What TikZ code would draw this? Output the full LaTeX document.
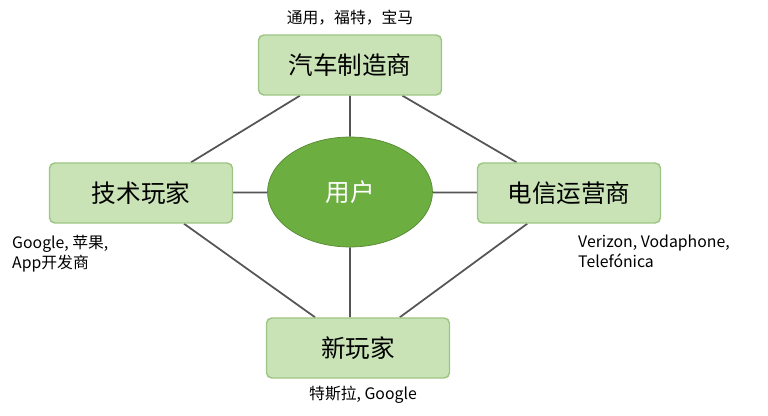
\documentclass[tikz,border=0pt]{standalone}
\usepackage{fontspec}
\newfontfamily\cjk{Noto Sans CJK SC}
\usetikzlibrary{shapes.geometric, backgrounds}
\definecolor{boxfill}{HTML}{C9E3B6}
\definecolor{boxline}{HTML}{9CC584}
\definecolor{hubfill}{HTML}{6CAE40}
\definecolor{linkgray}{HTML}{555555}
\tikzset{
  player/.style={draw=boxline, fill=boxfill, rounded corners=3pt, line width=0.8pt,
    minimum width=3.66cm, minimum height=1.2cm, font=\cjk\fontsize{14}{16}\selectfont},
  hub/.style={ellipse, fill=hubfill, draw=hubfill!80!black, minimum width=3.3cm,
    minimum height=2.2cm, text=white, font=\cjk\fontsize{14}{16}\selectfont},
  note/.style={font=\cjk\fontsize{9}{11.5}\selectfont, align=left},
  link/.style={draw=linkgray, line width=1pt}
}
\begin{document}
\begin{tikzpicture}[x=0.02cm,y=0.02cm]
    \useasboundingbox (0,0) rectangle (768,416);

    \node[hub] (user) at (350,224) {用户};
    \node[player] (car) at (350,351) {汽车制造商};
    \node[player] (tech) at (141,223) {技术玩家};
    \node[player] (tel) at (569,223) {电信运营商};
    \node[player] (new) at (358,68) {新玩家};

    \node[note] (carn) at (350,398) {通用，福特，宝马};
    \node[note, anchor=north west] (techn) at (6,187) {Google, 苹果,\\App开发商};
    \node[note, anchor=north west] (teln) at (572,187) {Verizon, Vodaphone,\\Telefónica};
    \node[note] (newn) at (363,21) {特斯拉, Google};

    \begin{scope}[on background layer]
    \path[link] (car) -- (tech) -- (new) -- (tel) -- (car);
    \path[link] (user) -- (car) (user) -- (tech) (user) -- (tel)
      (user.south) -- (user.south |- new.north);
    \end{scope}
\end{tikzpicture}
\end{document}
